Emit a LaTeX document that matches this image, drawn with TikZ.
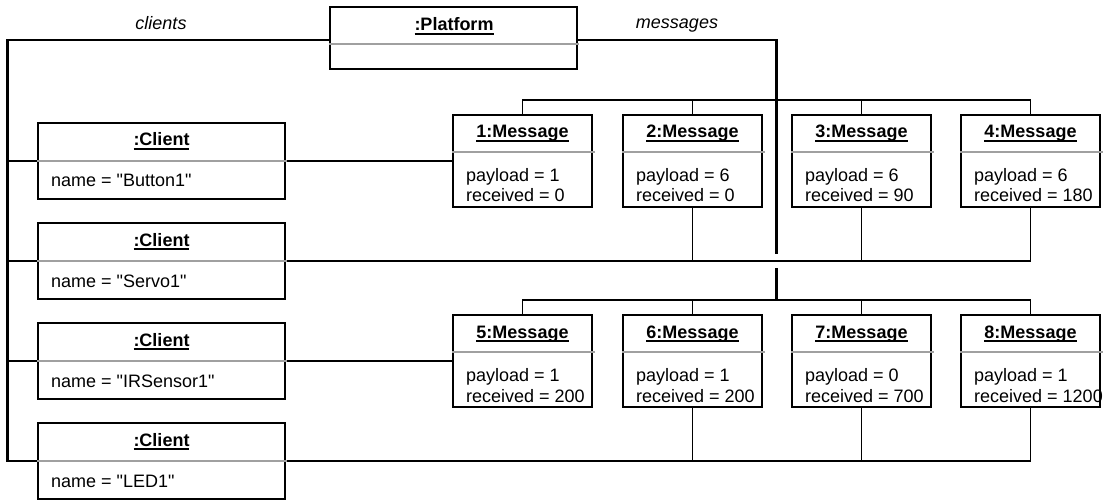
\documentclass[tikz,border=0pt]{standalone}
\usepackage{fontspec}
\setmainfont{Liberation Sans}
\usetikzlibrary{backgrounds}
\newcommand\myul[1]{\setbox0\hbox{\textbf{#1}}\rlap{\rule[-3.6pt]{\wd0}{1.5pt}}\box0}
\definecolor{sepgray}{HTML}{A0A0A0}
\tikzset{
  basebox/.style={draw=black, line width=1.5pt, fill=white, inner sep=0pt},
  platbox/.style={basebox, minimum width=247pt, minimum height=62pt},
  clientbox/.style={basebox, minimum width=247pt, minimum height=76pt},
  msgbox/.style={basebox, minimum width=139pt, minimum height=92pt},
  sepline/.style={draw=sepgray, line width=2pt},
  ttl/.style={anchor=base, inner sep=0pt},
  attr/.style={anchor=base west, inner sep=0pt},
  lbl/.style={anchor=base, inner sep=0pt, font=\fontsize{18}{21}\selectfont\itshape},
  thickedge/.style={draw=black, line width=2.4pt},
  midedge/.style={draw=black, line width=1.9pt},
  thinedge/.style={draw=black, line width=1.4pt},
}
\begin{document}
\begin{tikzpicture}[x=1pt, y=-1pt, font=\fontsize{18}{21}\selectfont]
\useasboundingbox (0,0) rectangle (1104,500);

% ---------- platform ----------
\node[platbox] (plat) at (453.5,38) {};
\draw[sepline] (329,44) -- (579,44);
\node[ttl] (platT) at (454,31) {\myul{:Platform}};
\node[lbl] (lblC) at (161,30) {clients};
\node[lbl] (lblM) at (677,29) {messages};

% ---------- clients ----------
\foreach \i/\y/\nm in {1/161/Button1, 2/261/Servo1, 3/361/IRSensor1, 4/461/LED1}{
  \node[clientbox] (c\i) at (161.5,\y) {};
  \draw[sepline] (37,\y) -- (287,\y);
  \node[ttl] (c\i t) at (161.5,\y-15) {\myul{:Client}};
  \node[attr] (c\i a) at (51,\y+26) {name = \textquotedbl\nm\textquotedbl};
}

% ---------- messages ----------
\foreach \i/\x/\y/\p/\r in {1/522.5/161/1/0, 2/692.5/161/6/0, 3/861.5/161/6/90, 4/1030.5/161/6/180,
                            5/522.5/361/1/200, 6/692.5/361/1/200, 7/861.5/361/0/700, 8/1030.5/361/1/1200}{
  \node[msgbox] (m\i) at (\x,\y) {};
  \draw[sepline] (\x-70.5,\y-9) -- (\x+72,\y-9);
  \node[ttl] (m\i t) at (\x,\y-23) {\myul{\i:Message}};
  \node[attr] (m\i p) at (\x-56.5,\y+20.5) {payload = \p};
  \node[attr] (m\i r) at (\x-56.5,\y+41) {received = \r};
}

% ---------- connectors ----------
\begin{scope}[on background layer]
  \coordinate (lb) at (7.5,40);
  \coordinate (mb) at (776.5,40);
  \coordinate (mr1) at (776.5,100);
  \coordinate (mr2) at (776.5,300);
  \coordinate (gapT) at (776.5,254);
  \coordinate (gapB) at (776.5,268);

  % platform -> clients
  \draw[thickedge] ([yshift=-2pt]plat.west) -- (lb) |- (c4.west);
  \draw[thinedge] (lb |- c1.west) -- (c1.west);
  \draw[thickedge] (lb |- c2.west) -- (c2.west);
  \draw[thinedge] (lb |- c3.west) -- (c3.west);

  % senders
  \draw[thinedge] (c1.east) -- (m1.west);
  \draw[thinedge] (c3.east) -- (m5.west);

  % receivers row 1
  \draw[thinedge] (m2.south) -- (m2.south |- c2.east);
  \draw[thinedge] (m3.south) -- (m3.south |- c2.east);
  \draw[thinedge] (m4.south) -- (m4.south |- c2.east) -- (m3.south |- c2.east);
  \draw[midedge] (m3.south |- c2.east) -- (m2.south |- c2.east);
  \draw[thickedge] (m2.south |- c2.east) -- (c2.east);

  % receivers row 2
  \draw[thinedge] (m6.south) -- (m6.south |- c4.east);
  \draw[thinedge] (m7.south) -- (m7.south |- c4.east);
  \draw[thinedge] (m8.south) -- (m8.south |- c4.east) -- (m7.south |- c4.east);
  \draw[midedge] (m7.south |- c4.east) -- (m6.south |- c4.east);
  \draw[thickedge] (m6.south |- c4.east) -- (c4.east);

  % platform -> messages
  \draw[thickedge] ([yshift=-2pt]plat.east) -- (mb) -- (gapT);
  \draw[thickedge] (gapB) -- (mr2);
  \draw[thinedge] (m1.north) |- (mr1);
  \draw[thinedge] (m4.north) |- (mr1);
  \draw[thinedge] (m2.north) -- (m2.north |- mr1);
  \draw[thinedge] (m3.north) -- (m3.north |- mr1);
  \draw[thinedge] (m5.north) |- (mr2);
  \draw[thinedge] (m8.north) |- (mr2);
  \draw[thinedge] (m6.north) -- (m6.north |- mr2);
  \draw[thinedge] (m7.north) -- (m7.north |- mr2);
\end{scope}
\end{tikzpicture}
\end{document}
